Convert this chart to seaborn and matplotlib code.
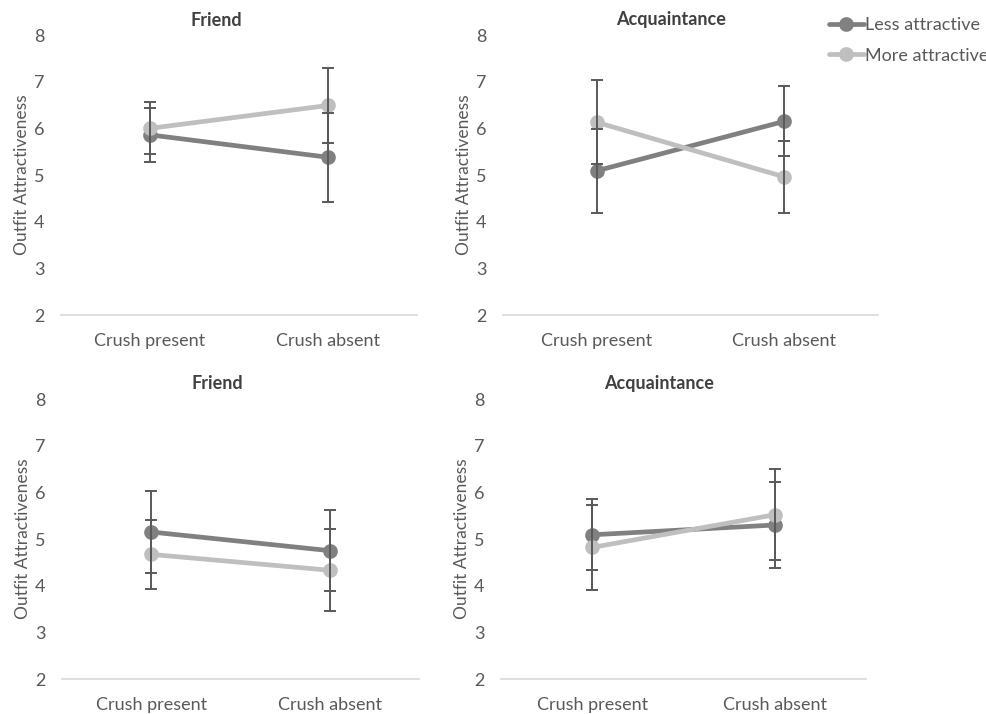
import numpy as np
import pandas as pd
import matplotlib
matplotlib.use("Agg")
import matplotlib.pyplot as plt
import seaborn as sns

# values
conditions = ["Crush present", "Crush absent"]
groups = ["Less attractive", "More attractive"]
panel_titles = ["Friend", "Acquaintance", "Friend", "Acquaintance"]

less_means = [[5.86, 5.38], [5.09, 6.15], [5.15, 4.75], [5.09, 5.30]]
less_err = [[0.58, 0.95], [0.90, 0.75], [0.88, 0.87], [0.76, 0.92]]
more_means = [[6.00, 6.49], [6.13, 4.96], [4.67, 4.33], [4.82, 5.52]]
more_err = [[0.56, 0.80], [0.90, 0.77], [0.74, 0.88], [0.91, 0.98]]

yticks = [2, 3, 4, 5, 6, 7, 8]

colors = {"Less attractive": "#808080", "More attractive": "#bfbfbf"}
err_color = "#595959"
text_color = "#595959"

sns.set_style("white")
plt.rcParams["font.family"] = ["Lato", "DejaVu Sans"]

fig = plt.figure(figsize=(9.87, 7.14), dpi=100)

W, H = 987, 714
# (left, right, top, bottom) in pixels
boxes = [(61, 417, 35, 315), (503, 878, 35, 315),
         (62, 419, 399, 679), (501, 866, 399, 679)]
title_x = [0.435, 0.448, 0.435, 0.433]

for i, (l, r, t, b) in enumerate(boxes):
    ax = fig.add_axes([l / W, 1 - b / H, (r - l) / W, (b - t) / H])

    rows = []
    for j, c in enumerate(conditions):
        rows.append({"cond": c, "group": groups[0], "val": less_means[i][j]})
        rows.append({"cond": c, "group": groups[1], "val": more_means[i][j]})
    df = pd.DataFrame(rows)

    sns.pointplot(data=df, x="cond", y="val", hue="group", order=conditions,
                  hue_order=groups, palette=colors, markers="o",
                  errorbar=None, dodge=False, ax=ax,
                  linewidth=3.4, markersize=8)

    xs = np.arange(len(conditions))
    ax.errorbar(xs, more_means[i], yerr=more_err[i], fmt="none",
                ecolor=err_color, elinewidth=1.4, capsize=4, capthick=1.4, zorder=5)
    ax.errorbar(xs, less_means[i], yerr=less_err[i], fmt="none",
                ecolor=err_color, elinewidth=1.4, capsize=4, capthick=1.4, zorder=5)

    ax.set_xlim(-0.5, 1.5)
    ax.set_ylim(2, 8)
    ax.set_yticks(yticks)
    ax.tick_params(axis="both", length=0, labelsize=13, colors=text_color)
    ax.tick_params(axis="y", pad=12)
    ax.tick_params(axis="x", pad=13)
    ax.set_xlabel("")
    ax.set_ylabel("Outfit Attractiveness", fontsize=12.5, color=text_color)
    ax.yaxis.set_label_coords(-31 / (r - l), 0.5)

    for s in ["top", "right", "left"]:
        ax.spines[s].set_visible(False)
    ax.spines["bottom"].set_color("#d9d9d9")
    ax.spines["bottom"].set_linewidth(1.2)

    ax.text(title_x[i], 1 + 15 / (b - t), panel_titles[i], transform=ax.transAxes,
            ha="center", va="center", fontsize=13, fontweight="bold", color="#404040")

    handles, labels = ax.get_legend_handles_labels()
    ax.get_legend().remove()

fig.legend(handles, labels, loc="upper left", bbox_to_anchor=(822 / W, 1 - 10 / H),
           frameon=False, fontsize=13, labelcolor=text_color, handlelength=1.9,
           handletextpad=0.1, labelspacing=0.8, borderaxespad=0)

fig.savefig("out.png", dpi=100)
